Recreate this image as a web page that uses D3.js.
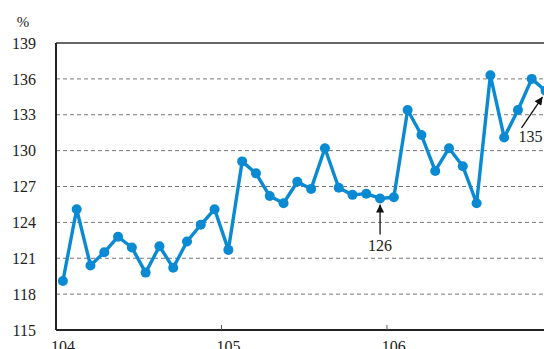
<!DOCTYPE html>
<html>
<head>
<meta charset="utf-8">
<script src="https://cdn.jsdelivr.net/npm/d3@7"></script>
<style>
  html, body { margin: 0; padding: 0; background: #fff; }
  svg { display: block; }
  text { font-family: "Liberation Serif", "Times New Roman", serif; fill: #222; }
</style>
</head>
<body>
<svg id="chart" width="544" height="349"></svg>
<script>
// Monthly index, years 104–106 (ROC calendar), 12 months each
const years = [104, 105, 106];
const values = [
  119.1, 125.1, 120.4, 121.5, 122.8, 121.9, 119.8, 122.0, 120.2, 122.4, 123.8, 125.1,
  121.7, 129.1, 128.1, 126.2, 125.6, 127.4, 126.8, 130.2, 126.9, 126.3, 126.4, 126.0,
  126.1, 133.4, 131.3, 128.3, 130.2, 128.7, 125.6, 136.3, 131.1, 133.4, 136.0, 135.0
];
const yTicks = [115, 118, 121, 124, 127, 130, 133, 136, 139];
const callouts = [23, 35]; // months whose value is written next to the line

const svg = d3.select("#chart");
const plotLeft = 56, plotTop = 43, plotBottom = 330, monthW = 13.79;

const x = d3.scaleLinear().domain([0, values.length]).range([plotLeft, plotLeft + values.length * monthW]);
const y = d3.scaleLinear().domain([115, 139]).range([plotBottom, plotTop]);

// horizontal dashed gridlines
svg.append("g").selectAll("line")
  .data(yTicks.filter(t => t > 115 && t < 139))
  .join("line")
  .attr("x1", plotLeft).attr("x2", 544)
  .attr("y1", d => y(d)).attr("y2", d => y(d))
  .attr("stroke", "#777").attr("stroke-width", 1)
  .attr("stroke-dasharray", "4,3");

// top frame line
svg.append("line")
  .attr("x1", plotLeft).attr("x2", 544)
  .attr("y1", y(139)).attr("y2", y(139))
  .attr("stroke", "#333").attr("stroke-width", 1.6);

// y axis labels
const yAxis = d3.axisLeft(y).tickValues(yTicks).tickSize(0).tickPadding(20);
const gy = svg.append("g").attr("transform", `translate(${plotLeft},0)`).call(yAxis);
gy.select(".domain").remove();
gy.selectAll("text")
  .attr("font-family", "Liberation Serif, serif")
  .attr("font-size", 16).attr("fill", "#222");

// left and bottom axis lines
svg.append("line").attr("x1", plotLeft).attr("x2", plotLeft).attr("y1", y(139)).attr("y2", plotBottom)
  .attr("stroke", "#222").attr("stroke-width", 2);
svg.append("line").attr("x1", plotLeft).attr("x2", 544).attr("y1", plotBottom).attr("y2", plotBottom)
  .attr("stroke", "#222").attr("stroke-width", 2);

// year boundary ticks and labels (labels sit under each January)
const yearIdx = years.map((yr, i) => i * 12);
svg.append("g").selectAll("line")
  .data(yearIdx.slice(1))
  .join("line")
  .attr("x1", d => x(d)).attr("x2", d => x(d))
  .attr("y1", plotBottom).attr("y2", plotBottom - 5)
  .attr("stroke", "#555").attr("stroke-width", 1);
svg.append("g").selectAll("text")
  .data(years)
  .join("text")
  .attr("x", (d, i) => x(i * 12 + 0.5))
  .attr("y", 352)
  .attr("text-anchor", "middle")
  .attr("font-size", 16)
  .text(d => d);

// unit label
svg.append("text").attr("x", 23).attr("y", 27).attr("text-anchor", "middle")
  .attr("font-size", 15).text("%");

// data line and markers
const line = d3.line().x((d, i) => x(i + 0.5)).y(d => y(d));
svg.append("path").datum(values)
  .attr("d", line).attr("fill", "none")
  .attr("stroke", "#0a8ad2").attr("stroke-width", 3.4)
  .attr("stroke-linejoin", "round");
svg.append("g").selectAll("circle")
  .data(values)
  .join("circle")
  .attr("cx", (d, i) => x(i + 0.5)).attr("cy", d => y(d))
  .attr("r", 5).attr("fill", "#0a8ad2");

// arrow head marker
svg.append("defs").append("marker")
  .attr("id", "arrow").attr("viewBox", "0 0 10 10")
  .attr("refX", 10).attr("refY", 5)
  .attr("markerWidth", 9).attr("markerHeight", 8)
  .attr("markerUnits", "userSpaceOnUse")
  .attr("orient", "auto")
  .append("path").attr("d", "M0,0 L10,5 L0,10 Z").attr("fill", "#111");

// value callouts
const fmt = d3.format(".0f");
const c1 = callouts[0], c2 = callouts[1];
const p1 = [x(c1 + 0.5), y(values[c1])];
svg.append("line")
  .attr("x1", p1[0]).attr("y1", p1[1] + 36)
  .attr("x2", p1[0]).attr("y2", p1[1] + 6)
  .attr("stroke", "#111").attr("stroke-width", 1.3)
  .attr("marker-end", "url(#arrow)");
svg.append("text").attr("x", p1[0]).attr("y", p1[1] + 53)
  .attr("text-anchor", "middle").attr("font-size", 16).text(fmt(values[c1]));

const p2 = [x(c2 + 0.5), y(values[c2])];
svg.append("line")
  .attr("x1", p2[0] - 24).attr("y1", p2[1] + 37)
  .attr("x2", p2[0] - 3).attr("y2", p2[1] + 6)
  .attr("stroke", "#111").attr("stroke-width", 1.3)
  .attr("marker-end", "url(#arrow)");
svg.append("text").attr("x", p2[0] - 27).attr("y", p2[1] + 51)
  .attr("text-anchor", "start").attr("font-size", 16).text(fmt(values[c2]));
</script>
</body>
</html>
